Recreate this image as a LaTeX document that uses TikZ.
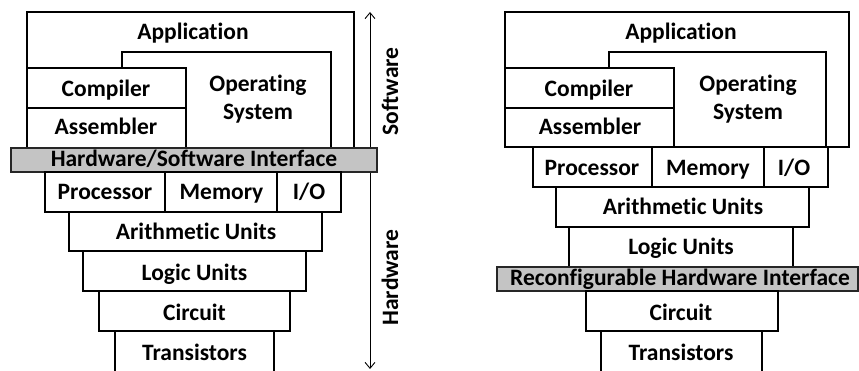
\documentclass[tikz,border=0pt]{standalone}
\usepackage{fontspec}
\setmainfont[Ligatures={NoCommon}]{Carlito}
\usetikzlibrary{arrows.meta}
\definecolor{barfill}{RGB}{196,196,196}
\tikzset{
  x=1pt, y=-1pt,
  layer/.style={draw=black, line width=2.7pt, fill=white},
  bar/.style={draw=black!85, line width=1.3pt, fill=barfill},
  lbl/.style={font=\fontsize{23.5}{28}\selectfont\bfseries, inner sep=0pt, anchor=base},
  mlbl/.style={font=\fontsize{23.5}{28}\selectfont\bfseries, inner sep=0pt, align=center, anchor=north},
  axis/.style={line width=0.9pt, {Straight Barb[length=6pt,width=10pt]}-{Straight Barb[length=6pt,width=10pt]}},
}
\begin{document}
\begin{tikzpicture}
\useasboundingbox (0,0) rectangle (859,371);
% ---------- Left stack ----------
\coordinate (atop) at (370,12);
\coordinate (abot) at (370,369);
\draw[axis] (abot) -- (atop);
\draw[layer] (27,12) rectangle (354,148);
\node[lbl] (app1) at (193,40) {Application};
\draw[layer] (122,52) rectangle (331,148);
\node[lbl] (os1a) at (258,92) {Operating};
\node[lbl] (os1b) at (258,120) {System};
\draw[layer] (27,68) rectangle (186,108);
\node[lbl] (comp1) at (106,97) {Compiler};
\draw[layer] (27,108) rectangle (186,148);
\node[lbl] (asm1) at (106,135) {Assembler};
\draw[bar] (11,148) rectangle (377,172);
\node[lbl] (hsi) at (194,167) {Hardware/Software Interface};
\draw[layer] (45,172) rectangle (165,212);
\node[lbl] (proc1) at (105,200) {Processor};
\draw[layer] (165,172) rectangle (277,212);
\node[lbl] (mem1) at (221.5,200) {Memory};
\draw[layer] (277,172) rectangle (341,212);
\node[lbl] (io1) at (309,200) {I/O};
\draw[layer] (69,212) rectangle (322,251);
\node[lbl] (ar1) at (196,240) {Arithmetic Units};
\draw[layer] (83,251) rectangle (306,291);
\node[lbl] (lu1) at (194.5,280) {Logic Units};
\draw[layer] (99,291) rectangle (290,331);
\node[lbl] (ci1) at (194.5,320) {Circuit};
\draw[layer] (115,331) rectangle (274,373);
\node[lbl] (tr1) at (194.5,360) {Transistors};
\node[lbl, rotate=90] (sw) at (398,91.5) {Software};
\node[lbl, rotate=90] (hw) at (398,277.5) {Hardware};
% ---------- Right stack ----------
\draw[layer] (505,12) rectangle (849,147);
\node[lbl] (app2) at (681,40) {Application};
\draw[layer] (609,52) rectangle (826,147);
\node[lbl] (os2a) at (748,92) {Operating};
\node[lbl] (os2b) at (748,120) {System};
\draw[layer] (505,68) rectangle (674,108);
\node[lbl] (comp2) at (589,97) {Compiler};
\draw[layer] (505,108) rectangle (674,147);
\node[lbl] (asm2) at (590,135) {Assembler};
\draw[layer] (533,147) rectangle (652,187);
\node[lbl] (proc2) at (592,176) {Processor};
\draw[layer] (652,147) rectangle (764,187);
\node[lbl] (mem2) at (708,176) {Memory};
\draw[layer] (764,147) rectangle (828,187);
\node[lbl] (io2) at (794,176) {I/O};
\draw[layer] (556,187) rectangle (809,227);
\node[lbl] (ar2) at (683,215) {Arithmetic Units};
\draw[layer] (569,227) rectangle (793,267);
\node[lbl] (lu2) at (681,255) {Logic Units};
\draw[bar] (497,267) rectangle (858,291);
\node[lbl] (rhi) at (680,286) {Reconfigurable Hardware Interface};
\draw[layer] (586,291) rectangle (778,331);
\node[lbl] (ci2) at (681,320) {Circuit};
\draw[layer] (601,331) rectangle (762,373);
\node[lbl] (tr2) at (681,360) {Transistors};
\end{tikzpicture}
\end{document}
